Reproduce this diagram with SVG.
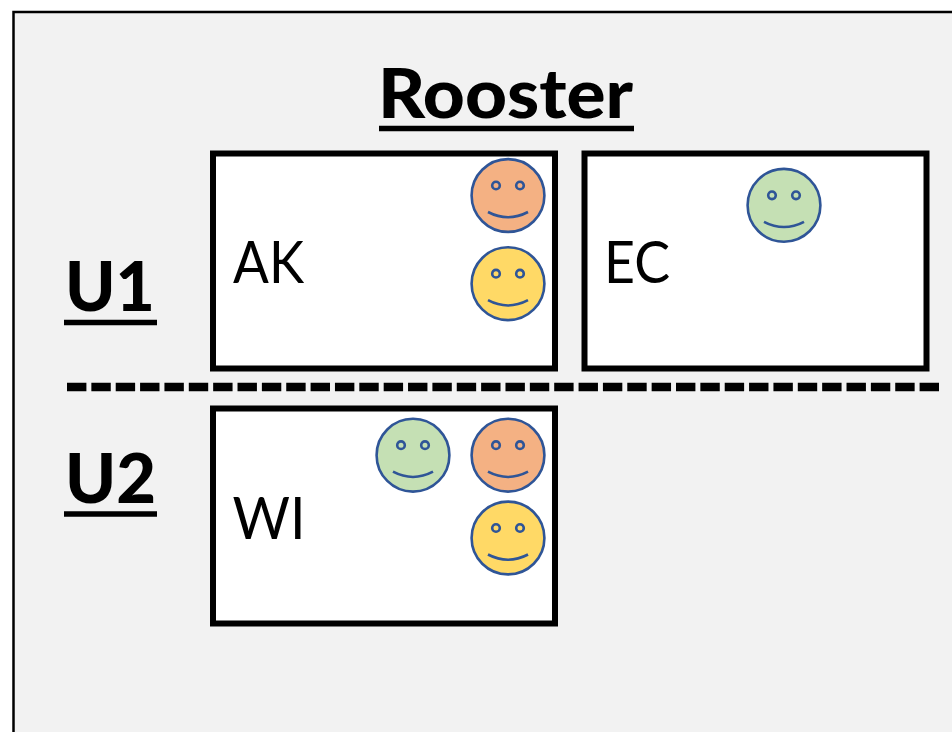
<svg xmlns="http://www.w3.org/2000/svg" width="952" height="732" viewBox="0 0 952 732">
<style>
.room{fill:#fff;stroke:#000;stroke-width:6}
.title{font-family:Lato,"Liberation Sans",sans-serif;font-weight:900;fill:#000}
.name{font-family:Lato,"Liberation Sans",sans-serif;font-size:58px;fill:#000}
.ul{stroke:#000;fill:none}
.face circle,.face path{stroke:#2F5597;stroke-width:2.6}
.face path{fill:none}
.orange{fill:#F4B183}.yellow{fill:#FFD966}.green{fill:#C5E0B4}
</style>
<defs>
<g id="smiley" class="face">
<circle r="36.4"/>
<circle cx="-12" cy="-10" r="3.8"/>
<circle cx="12" cy="-10" r="3.8"/>
<path d="M-20 16.5Q0 27 20 16.5"/>
</g>
</defs>
<rect width="952" height="732" fill="#fff"/>
<rect id="frame" x="13.5" y="12" width="960" height="740" fill="#F2F2F2" stroke="#000" stroke-width="2.5"/>
<g id="title"><text class="title" x="378" y="118" font-size="68" textLength="255" lengthAdjust="spacingAndGlyphs">Rooster</text><line class="ul" x1="379" y1="128.5" x2="634" y2="128.5" stroke-width="5.5"/></g>
<g id="u1"><text class="title" x="65" y="311" font-size="68" textLength="90" lengthAdjust="spacingAndGlyphs">U1</text><line class="ul" x1="64" y1="322.5" x2="157" y2="322.5" stroke-width="5.5"/></g>
<g id="u2"><text class="title" x="65" y="503" font-size="68" textLength="91" lengthAdjust="spacingAndGlyphs">U2</text><line class="ul" x1="64" y1="514" x2="157" y2="514" stroke-width="5.5"/></g>
<g id="connectors"><line x1="67" y1="387" x2="939" y2="387" stroke="#000" stroke-width="8.5" stroke-dasharray="19.4 4.96"/></g>
<g id="ak"><rect class="room" x="213" y="153.5" width="342" height="215"/><text class="name" x="233" y="283" textLength="71" lengthAdjust="spacingAndGlyphs">AK</text><use href="#smiley" class="orange" x="508" y="195.5"/><use href="#smiley" class="yellow" x="508" y="283.7"/></g>
<g id="ec"><rect class="room" x="584.5" y="153.5" width="342" height="215"/><text class="name" x="604" y="283" textLength="66" lengthAdjust="spacingAndGlyphs">EC</text><use href="#smiley" class="green" x="784" y="205.3"/></g>
<g id="wi"><rect class="room" x="213" y="408.5" width="342" height="215"/><text class="name" x="232.5" y="539" textLength="73" lengthAdjust="spacingAndGlyphs">WI</text><use href="#smiley" class="green" x="413" y="455.2"/><use href="#smiley" class="orange" x="508" y="455.2"/><use href="#smiley" class="yellow" x="508" y="538"/></g>
</svg>
